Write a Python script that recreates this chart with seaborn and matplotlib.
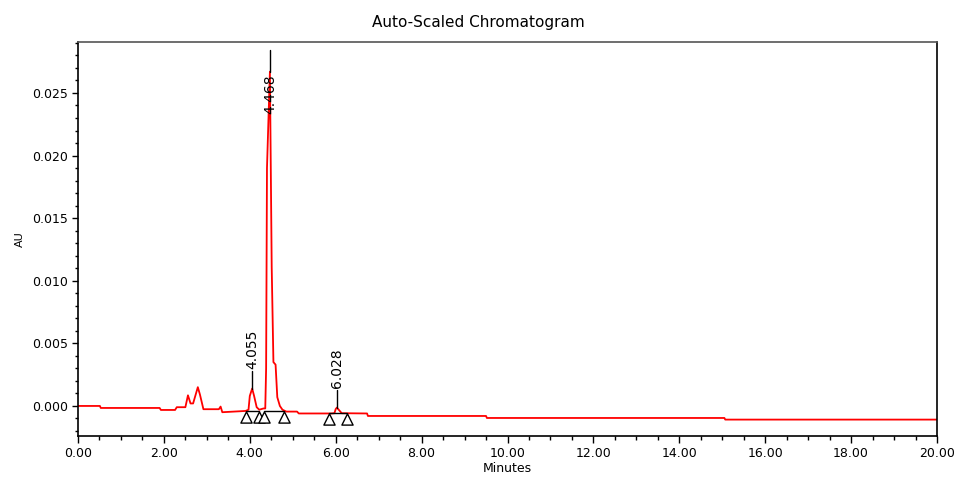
import numpy as np
import pandas as pd
import matplotlib
matplotlib.use("Agg")
import matplotlib.pyplot as plt
from matplotlib.ticker import MultipleLocator, FormatStrFormatter
import seaborn as sns

# ---- data ----
trace_time = [0.00, 0.51, 0.53, 1.90, 1.93, 2.26, 2.30, 2.50, 2.56, 2.62, 2.68, 2.79,
              2.84, 2.92, 3.28, 3.32, 3.36, 3.90, 3.97, 4.00, 4.055, 4.10, 4.16, 4.22,
              4.32, 4.36, 4.38, 4.40, 4.468, 4.51, 4.55, 4.60, 4.64, 4.70, 4.76, 4.85,
              5.10, 5.14, 5.90, 5.97, 6.00, 6.028, 6.07, 6.14, 6.73, 6.75, 9.50, 9.52,
              15.05, 15.07, 20.00]
trace_au = [0.00000, 0.00000, -0.00016, -0.00016, -0.00032, -0.00032, -0.00010, -0.00010,
            0.00085, 0.00020, 0.00020, 0.00150, 0.00090, -0.00026, -0.00026, -0.00005,
            -0.00050, -0.00040, -0.00030, 0.00080, 0.00139, 0.00080, -0.00010, -0.00030,
            -0.00020, -0.00020, 0.00300, 0.01900, 0.02670, 0.01110, 0.00350, 0.00330,
            0.00070, 0.00000, -0.00030, -0.00045, -0.00045, -0.00060, -0.00060, -0.00058,
            -0.00025, -0.00013, -0.00030, -0.00058, -0.00060, -0.00080, -0.00080, -0.00096,
            -0.00096, -0.00109, -0.00109]

peak_rt = [4.055, 4.468, 6.028]
peak_labels = ["4.055", "4.468", "6.028"]
peak_start = [3.90, 4.34, 5.84]
peak_end = [4.21, 4.80, 6.26]
peak_base = [-0.00042, -0.00042, -0.00060]

x_ticks = [0, 2, 4, 6, 8, 10, 12, 14, 16, 18, 20]
y_ticks = [0.000, 0.005, 0.010, 0.015, 0.020, 0.025]

# ---- figure ----
sns.set_style("ticks")
plt.rcParams['font.family'] = ['DejaVu Sans']
for k in ["text.color", "axes.labelcolor", "xtick.color", "ytick.color", "axes.edgecolor"]:
    plt.rcParams[k] = "black"

fig = plt.figure(figsize=(9.56, 4.80), dpi=100)
ax = fig.add_axes([78/956, 1 - 436/480, (937-78)/956, (436-42)/480])

df = pd.DataFrame({"Minutes": trace_time, "AU": trace_au})
sns.lineplot(data=df, x="Minutes", y="AU", color="red", linewidth=1.3,
             estimator=None, sort=False, ax=ax)

ymin, ymax = -0.00240, 0.02907
ax.set_xlim(0, 20)
ax.set_ylim(ymin, ymax)

tt = np.array(trace_time)
aa = np.array(trace_au)

# integration baselines and start/end markers
mk_off = 0.00045
mx, my = [], []
for s, e, b in zip(peak_start, peak_end, peak_base):
    ax.plot([s, e], [b, b], color="black", linewidth=1.0, zorder=4)
    mx += [s, e]
    my += [b - mk_off, b - mk_off]
sns.scatterplot(x=mx, y=my, marker="^", s=65, facecolor="white",
                edgecolor="black", linewidth=1.0, ax=ax, zorder=5)

# peak labels
for rt, lab in zip(peak_rt, peak_labels):
    h = np.interp(rt, tt, aa)
    top = h + 0.0014
    if top + 0.0036 > ymax:
        top = min(top + 0.0004, ymax - 0.0006)
        ax.plot([rt, rt], [h, top], color="black", linewidth=1.0, zorder=4)
        ax.text(rt, h - 0.0002, lab, rotation=90, ha="center", va="top",
                fontsize=10, zorder=6)
    else:
        ax.plot([rt, rt], [h, top], color="black", linewidth=1.0, zorder=4)
        ax.text(rt, top + 0.0002, lab, rotation=90, ha="center", va="bottom",
                fontsize=10, zorder=6)

ax.set_xticks(x_ticks)
ax.set_yticks(y_ticks)
ax.xaxis.set_major_formatter(FormatStrFormatter("%.2f"))
ax.yaxis.set_major_formatter(FormatStrFormatter("%.3f"))
ax.xaxis.set_minor_locator(MultipleLocator(0.5))
ax.yaxis.set_minor_locator(MultipleLocator(0.001))
ax.tick_params(axis="x", which="major", length=5, width=1, pad=3, labelsize=9, direction="out")
ax.tick_params(axis="x", which="minor", length=3, width=1, direction="out")
ax.tick_params(axis="y", which="major", length=4, width=1, pad=3, labelsize=9, direction="out")
ax.tick_params(axis="y", which="minor", length=2, width=1, direction="out")

for side in ["left", "bottom", "right"]:
    ax.spines[side].set_color("black")
    ax.spines[side].set_linewidth(1.2)
ax.spines["top"].set_color("#555555")
ax.spines["top"].set_linewidth(1.2)
ax.spines["top"].set_visible(True)
ax.spines["right"].set_visible(True)

ax.set_xlabel("Minutes", fontsize=9, labelpad=1)
ax.set_ylabel("AU", fontsize=8, labelpad=5)
fig.text(0.5, 1 - 22/480, "Auto-Scaled Chromatogram", ha="center", va="center", fontsize=11)

fig.savefig("out.png", dpi=100)
